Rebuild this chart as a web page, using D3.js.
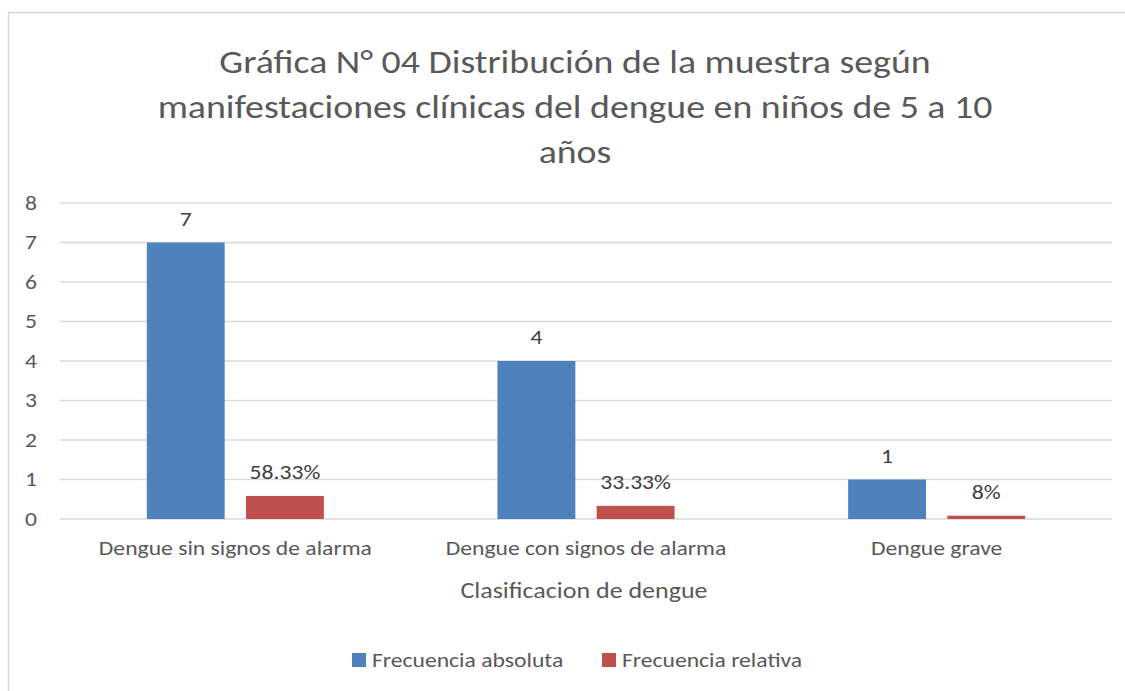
<!DOCTYPE html>
<html>
<head>
<meta charset="utf-8">
<script src="https://cdn.jsdelivr.net/npm/d3@7"></script>
<style>
  body { margin: 0; background: #fff; }
  text { font-family: Carlito, Lato, "Open Sans", sans-serif; fill: #595959; }
  text.value { fill: #404040; }
</style>
</head>
<body>
<script>
const categories = ['Dengue sin signos de alarma', 'Dengue con signos de alarma', 'Dengue grave'];
const seriesNames = ['Frecuencia absoluta', 'Frecuencia relativa'];
const absoluta = [7, 4, 1];
const relativa = [0.5833, 0.3333, 0.0833];
const relativaLabels = ['58.33%', '33.33%', '8%'];
const yTicks = [0, 1, 2, 3, 4, 5, 6, 7, 8];
const titleLines = [
  'Gráfica N° 04 Distribución de la muestra según',
  'manifestaciones clínicas del dengue en niños de 5 a 10',
  'años'
];
const xTitle = 'Clasificacion de dengue';

const main = () => {
  const width = 1125;
  const height = 691;
  const colors = ['#4f81bd', '#c0504d'];
  const plot = { left: 60, right: 1112, top: 203, bottom: 519 };

  const svg = d3.select('body').append('svg').attr('width', width).attr('height', height);

  // chart frame (runs off the right and bottom edges)
  svg.append('rect')
    .attr('x', 8.5).attr('y', 12.5)
    .attr('width', 1200).attr('height', 800)
    .attr('fill', 'none')
    .attr('stroke', '#d9d9d9')
    .attr('stroke-width', 1.5);

  svg.append('g').attr('class', 'title').selectAll('text')
    .data(titleLines)
    .join('text')
    .attr('x', 575)
    .attr('y', (d, i) => 62 + i * 45)
    .attr('dy', '0.35em')
    .attr('text-anchor', 'middle')
    .style('font-size', '32px')
    .text(d => d);

  const y = d3.scaleLinear().domain([0, 8]).range([plot.bottom, plot.top]);
  const x0 = d3.scaleBand().domain(categories).range([plot.left, plot.right]);
  const x1 = d3.scaleBand().domain(seriesNames).range([86.8, x0.bandwidth() - 86.8]).paddingInner(0.215);

  // gridlines
  svg.append('g').selectAll('line')
    .data(yTicks)
    .join('line')
    .attr('x1', plot.left).attr('x2', plot.right)
    .attr('y1', d => y(d)).attr('y2', d => y(d))
    .attr('stroke', '#d9d9d9')
    .attr('stroke-width', 1.5);

  const yAxis = svg.append('g')
    .attr('transform', `translate(${plot.left},0)`)
    .call(d3.axisLeft(y).tickValues(yTicks).tickSize(0).tickPadding(23));
  yAxis.select('.domain').remove();
  yAxis.selectAll('text').style('font-size', '20px').style('font-family', null).attr('fill', null);

  const groups = svg.append('g').selectAll('g')
    .data(categories)
    .join('g')
    .attr('transform', d => `translate(${x0(d)},0)`);

  groups.append('rect')
    .attr('x', x1(seriesNames[0]))
    .attr('width', x1.bandwidth())
    .attr('y', (d, i) => y(absoluta[i]))
    .attr('height', (d, i) => y(0) - y(absoluta[i]))
    .attr('fill', colors[0]);

  groups.append('rect')
    .attr('x', x1(seriesNames[1]))
    .attr('width', x1.bandwidth())
    .attr('y', (d, i) => y(relativa[i]))
    .attr('height', (d, i) => y(0) - y(relativa[i]))
    .attr('fill', colors[1]);

  groups.append('text')
    .attr('class', 'value')
    .attr('x', x1(seriesNames[0]) + x1.bandwidth() / 2)
    .attr('y', (d, i) => y(absoluta[i]) - 24)
    .attr('dy', '0.35em')
    .attr('text-anchor', 'middle')
    .style('font-size', '20px')
    .text((d, i) => absoluta[i]);

  groups.append('text')
    .attr('class', 'value')
    .attr('x', x1(seriesNames[1]) + x1.bandwidth() / 2)
    .attr('y', (d, i) => y(relativa[i]) - 24)
    .attr('dy', '0.35em')
    .attr('text-anchor', 'middle')
    .style('font-size', '20px')
    .text((d, i) => relativaLabels[i]);

  const xAxis = svg.append('g')
    .attr('class', 'xaxis')
    .attr('transform', `translate(0,${plot.bottom})`)
    .call(d3.axisBottom(x0).tickSize(0).tickPadding(22));
  xAxis.select('.domain').remove();
  xAxis.selectAll('text').style('font-size', '20px').style('font-family', null).attr('fill', null);

  svg.append('text')
    .attr('x', 584).attr('y', 590)
    .attr('dy', '0.35em')
    .attr('text-anchor', 'middle')
    .style('font-size', '22px')
    .text(xTitle);

  const legendX = [352, 602];
  const legend = svg.append('g').selectAll('g')
    .data(seriesNames)
    .join('g')
    .attr('transform', (d, i) => `translate(${legendX[i]},660)`);
  legend.append('rect')
    .attr('x', 0).attr('y', -7)
    .attr('width', 14).attr('height', 14)
    .attr('fill', (d, i) => colors[i]);
  legend.append('text')
    .attr('x', 20)
    .attr('dy', '0.35em')
    .style('font-size', '20px')
    .text(d => d);

  // the source picture is stretched sideways: widen every text to match
  const ref = xAxis.select('text').node();
  const sx = 273 / ref.getComputedTextLength();
  svg.selectAll('text').each(function () {
    const w = this.getComputedTextLength();
    d3.select(this).attr('textLength', w * sx).attr('lengthAdjust', 'spacingAndGlyphs');
  });
};

main();
</script>
</body>
</html>
